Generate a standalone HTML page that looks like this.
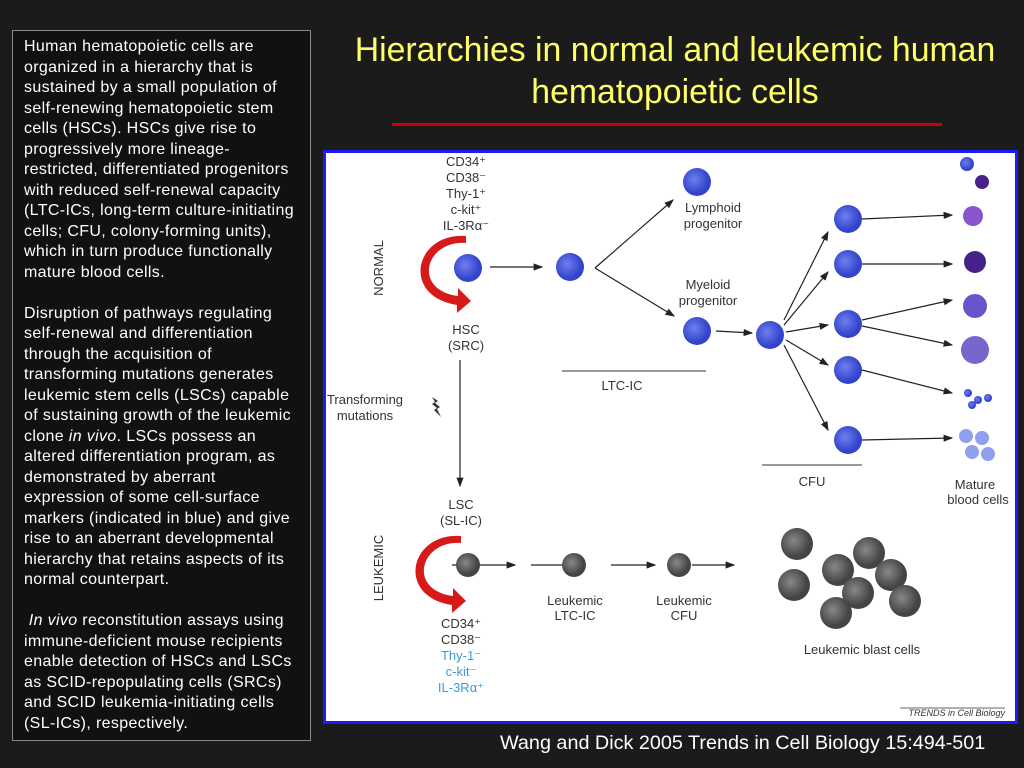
<!DOCTYPE html>
<html><head><meta charset="utf-8"><style>
body{margin:0;width:1024px;height:768px;background:#1b1b1b;position:relative;overflow:hidden;font-family:"Liberation Sans",sans-serif}
#txt{position:absolute;left:12px;top:30px;width:286px;height:703px;border:1px solid #888;padding:6px 0 0 11px;color:#fff;font-size:16px;line-height:20.5px;background:#111;white-space:nowrap;letter-spacing:0.35px}
#title{position:absolute;left:330px;top:29px;width:690px;text-align:center;color:#ffff66;font-size:33.8px;line-height:42px}
#line{position:absolute;left:392px;top:123px;width:550px;height:3px;background:#c00}
#fig{position:absolute;left:323px;top:150px;width:689px;height:568px;border:3px solid #1a1aff;background:#fff}
#cite{position:absolute;left:500px;top:732px;color:#fff;font-size:19.8px}
svg text{font-family:"Liberation Sans",sans-serif;font-size:13px;fill:#333}
</style></head><body>
<div id="txt">Human hematopoietic cells are<br>organized in a hierarchy that is<br>sustained by a small population of<br>self-renewing hematopoietic stem<br>cells (HSCs). HSCs give rise to<br>progressively more lineage-<br>restricted, differentiated progenitors<br>with reduced self-renewal capacity<br>(LTC-ICs, long-term culture-initiating<br>cells; CFU, colony-forming units),<br>which in turn produce functionally<br>mature blood cells.<br><br>Disruption of pathways regulating<br>self-renewal and differentiation<br>through the acquisition of<br>transforming mutations generates<br>leukemic stem cells (LSCs) capable<br>of sustaining growth of the leukemic<br>clone <i>in vivo</i>. LSCs possess an<br>altered differentiation program, as<br>demonstrated by aberrant<br>expression of some cell-surface<br>markers (indicated in blue) and give<br>rise to an aberrant developmental<br>hierarchy that retains aspects of its<br>normal counterpart.<br><br>&nbsp;<i>In vivo</i> reconstitution assays using<br>immune-deficient mouse recipients<br>enable detection of HSCs and LSCs<br>as SCID-repopulating cells (SRCs)<br>and SCID leukemia-initiating cells<br>(SL-ICs), respectively.</div>
<div id="title">Hierarchies in normal and leukemic human<br>hematopoietic cells</div>
<div id="line"></div>
<div id="fig">
<svg width="689" height="568" viewBox="326 153 689 568" style="position:absolute;left:0;top:0">
<defs><marker id="a" markerWidth="8" markerHeight="6" refX="7" refY="3" orient="auto"><path d="M0,0L8,3L0,6z" fill="#222"/></marker>
<radialGradient id="b" cx="40%" cy="40%"><stop offset="0" stop-color="#6f7fee"/><stop offset="1" stop-color="#3344cc"/></radialGradient>
<radialGradient id="g" cx="40%" cy="40%"><stop offset="0" stop-color="#888"/><stop offset="1" stop-color="#444"/></radialGradient></defs>
<g text-anchor="middle">
<text x="466" y="166">CD34⁺</text><text x="466" y="182">CD38⁻</text><text x="466" y="198">Thy-1⁺</text><text x="466" y="214">c-kit⁺</text><text x="466" y="230">IL-3Rα⁻</text>
<text x="466" y="334">HSC</text><text x="466" y="350">(SRC)</text>
<text x="365" y="404">Transforming</text><text x="365" y="420">mutations</text>
<text x="713" y="212">Lymphoid</text><text x="713" y="228">progenitor</text>
<text x="708" y="289">Myeloid</text><text x="708" y="305">progenitor</text>
<text x="622" y="390">LTC-IC</text><text x="812" y="486">CFU</text>
<text x="975" y="489">Mature</text><text x="978" y="504">blood cells</text>
<text x="461" y="509">LSC</text><text x="461" y="525">(SL-IC)</text>
<text x="575" y="605">Leukemic</text><text x="575" y="620">LTC-IC</text>
<text x="684" y="605">Leukemic</text><text x="684" y="620">CFU</text>
<text x="862" y="654">Leukemic blast cells</text>
<text x="461" y="628">CD34⁺</text><text x="461" y="644">CD38⁻</text>
<text x="461" y="660" style="fill:#3a9ad8">Thy-1⁻</text><text x="461" y="676" style="fill:#3a9ad8">c-kit⁻</text><text x="461" y="692" style="fill:#3a9ad8">IL-3Rα⁺</text>
</g>
<text x="383" y="268" transform="rotate(-90 383 268)" text-anchor="middle">NORMAL</text>
<text x="383" y="568" transform="rotate(-90 383 568)" text-anchor="middle">LEUKEMIC</text>
<text x="1005" y="716" text-anchor="end" style="font-size:9px;font-style:italic">TRENDS in Cell Biology</text>
<line x1="900" y1="708" x2="1005" y2="708" stroke="#333" stroke-width="0.7"/>
<g stroke="#222" stroke-width="1.2" fill="none" marker-end="url(#a)">
<line x1="490" y1="267" x2="542" y2="267"/>
<line x1="595" y1="268" x2="673" y2="200"/><line x1="595" y1="268" x2="674" y2="316"/>
<line x1="716" y1="331" x2="752" y2="333"/>
<line x1="784" y1="320" x2="828" y2="232"/><line x1="784" y1="325" x2="828" y2="272"/><line x1="786" y1="332" x2="828" y2="325"/><line x1="786" y1="340" x2="828" y2="365"/><line x1="784" y1="345" x2="828" y2="430"/>
<line x1="862" y1="320" x2="952" y2="300"/><line x1="862" y1="326" x2="952" y2="345"/>
<line x1="862" y1="219" x2="952" y2="215"/><line x1="862" y1="264" x2="952" y2="264"/>
<line x1="862" y1="370" x2="952" y2="393"/><line x1="862" y1="440" x2="952" y2="438"/>
<line x1="460" y1="360" x2="460" y2="486"/>
<line x1="452" y1="565" x2="515" y2="565"/><line x1="531" y1="565" x2="573" y2="565"/><line x1="611" y1="565" x2="655" y2="565"/><line x1="692" y1="565" x2="734" y2="565"/>
</g>
<g stroke="#333" stroke-width="1"><line x1="562" y1="371" x2="706" y2="371"/><line x1="762" y1="465" x2="862" y2="465"/></g>
<path d="M466,243 C425,240 412,290 458,296 L458,288 L471,301 L457,313 L457,305 C400,296 415,232 466,236z" fill="#d61a1a"/>
<path d="M461,543 C420,540 407,590 453,596 L453,588 L466,601 L452,613 L452,605 C395,596 410,532 461,536z" fill="#d61a1a"/>
<path d="M432,397 l6,4 -3,2 5,4 -3,2 4,8 -7,-7 3,-2 -5,-4 3,-2z" fill="#333"/>
<g fill="url(#b)">
<circle cx="468" cy="268" r="14"/><circle cx="570" cy="267" r="14"/><circle cx="697" cy="182" r="14"/><circle cx="697" cy="331" r="14"/><circle cx="770" cy="335" r="14"/>
<circle cx="848" cy="219" r="14"/><circle cx="848" cy="264" r="14"/><circle cx="848" cy="324" r="14"/><circle cx="848" cy="370" r="14"/><circle cx="848" cy="440" r="14"/>
<circle cx="967" cy="164" r="7"/><circle cx="982" cy="182" r="7" fill="#442288"/><circle cx="973" cy="216" r="10" fill="#8855cc"/><circle cx="975" cy="262" r="11" fill="#442288"/><circle cx="975" cy="306" r="12" fill="#6655cc"/><circle cx="975" cy="350" r="14" fill="#7766cc"/>
<circle cx="968" cy="393" r="4"/><circle cx="978" cy="400" r="4"/><circle cx="988" cy="398" r="4"/><circle cx="972" cy="405" r="4"/>
<circle cx="966" cy="436" r="7" fill="#8fa0ee"/><circle cx="982" cy="438" r="7" fill="#8fa0ee"/><circle cx="972" cy="452" r="7" fill="#8fa0ee"/><circle cx="988" cy="454" r="7" fill="#8fa0ee"/>
</g>
<g fill="url(#g)">
<circle cx="468" cy="565" r="12"/><circle cx="574" cy="565" r="12"/><circle cx="679" cy="565" r="12"/>
<circle cx="797" cy="544" r="16"/><circle cx="838" cy="570" r="16"/><circle cx="869" cy="553" r="16"/><circle cx="891" cy="575" r="16"/><circle cx="794" cy="585" r="16"/><circle cx="858" cy="593" r="16"/><circle cx="836" cy="613" r="16"/><circle cx="905" cy="601" r="16"/>
</g>
</svg></div>
<div id="cite">Wang and Dick 2005 Trends in Cell Biology 15:494-501</div>
</body></html>
